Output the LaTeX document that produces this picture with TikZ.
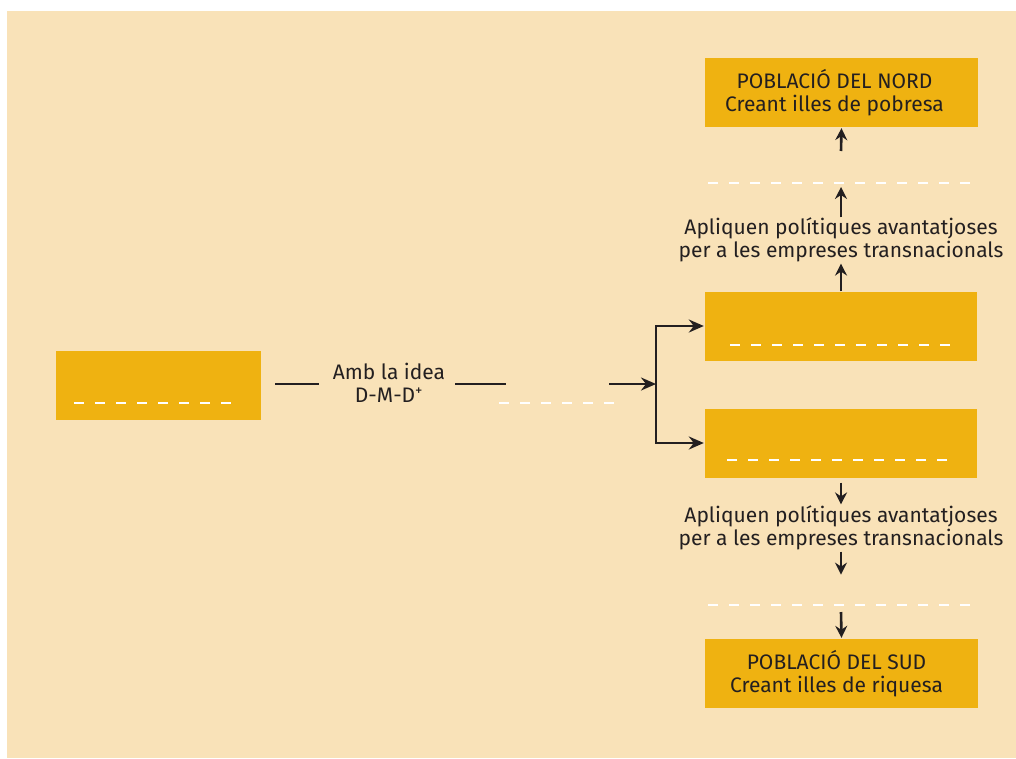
\documentclass[tikz,border=0pt]{standalone}
\usepackage{fontspec}
\setmainfont{Fira Sans}
\usetikzlibrary{arrows.meta}
\definecolor{fons}{HTML}{F9E2B8}
\definecolor{groc}{HTML}{EFB211}
\definecolor{tinta}{HTML}{231F20}
\tikzset{
  caixa/.style={fill=groc, minimum width=273pt, minimum height=69pt, inner sep=0pt},
  lletra/.style={align=center, text=tinta, inner sep=2pt},
  buit/.style={white, line width=1.4pt, dash pattern=on 10pt off 11pt},
  linia/.style={tinta, line width=2.4pt},
  fletxa/.style={tinta, line width=2.6pt, -{Stealth[length=12pt,width=12pt,inset=4pt]}},
  doble/.style={tinta, line width=2.4pt, {Stealth[length=15pt,width=13pt,inset=5pt]}-{Stealth[length=15pt,width=13pt,inset=5pt]}}
}
\begin{document}
\begin{tikzpicture}[x=1pt,y=-1pt,font=\fontsize{21}{23.5}\selectfont]
    \useasboundingbox (0,0) rectangle (1016,758);
    \fill [fons] (7,11) rectangle (1016,758);
    % caixes
    \node [caixa, minimum width=205pt] (diners) at (158.5,385.5) {};
    \node [caixa] (nord) at (841.5,92.5) {};
    \node [caixa, minimum width=272pt] (alt) at (841,326) {};
    \node [caixa, minimum width=272pt] (baix) at (841,443) {};
    \node [caixa] (sud) at (841.5,673.5) {};
    % textos
    \node [lletra] (nordtext) at ([xshift=-7pt]nord.center) {POBLACIÓ DEL NORD\\Creant illes de pobresa};
    \node [lletra] (sudtext) at ([xshift=-5pt]sud.center) {POBLACIÓ DEL SUD\\Creant illes de riquesa};
    \node [lletra] (idea) at (389,383) {Amb la idea\\D-M-D\textsuperscript{+}};
    \node [lletra] (politiques1) at (841,240) {Apliquen polítiques avantatjoses\\per a les empreses transnacionals};
    \node [lletra] (politiques2) at (841,528) {Apliquen polítiques avantatjoses\\per a les empreses transnacionals};
    % punts
    \coordinate (nus) at (656,384);
    \coordinate (surt) at ([xshift=14pt]diners.east);
    \coordinate (entra) at ([xshift=-12pt]idea.west);
    \coordinate (torna) at ([xshift=8pt]idea.east);
    \coordinate (fi) at (506,384);
    \coordinate (inici) at (609,384);
    \coordinate (sotanord) at (841,151);
    \coordinate (buitnord) at (841,187);
    \coordinate (buitsud) at (841,612);
    % espais en blanc
    \draw [buit] (74,403) -- (236,403);
    \draw [buit] (499,403) -- (618,403);
    \draw [buit] (730,345) -- (956,345);
    \draw [buit] (727,460) -- (956,460);
    \draw [buit] (708,183) -- (978,183);
    \draw [buit] (708,605) -- (978,605);
    % connexions
    \draw [linia] (surt |- nus) -- (entra |- nus);
    \draw [linia] (torna |- nus) -- (fi);
    \draw [fletxa, -{Stealth[length=15pt,width=13pt,inset=5pt]}] (inici) -- (nus);
    \draw [doble] ([xshift=-1pt]alt.west) -| (nus) |- ([xshift=-1pt]baix.west);
    \draw [fletxa] (sotanord) -- ([yshift=-1pt]nord.south);
    \draw [fletxa] ([yshift=-2pt]politiques1.north) -- (buitnord);
    \draw [fletxa] (alt.north) -- ([yshift=1pt]politiques1.south);
    \draw [fletxa] ([yshift=-5pt]baix.south) -- ([yshift=-1pt]politiques2.north);
    \draw [fletxa] ([yshift=1pt]politiques2.south) -- +(0,23);
    \draw [fletxa] (buitsud) -- ([yshift=1pt]sud.north);
\end{tikzpicture}
\end{document}
